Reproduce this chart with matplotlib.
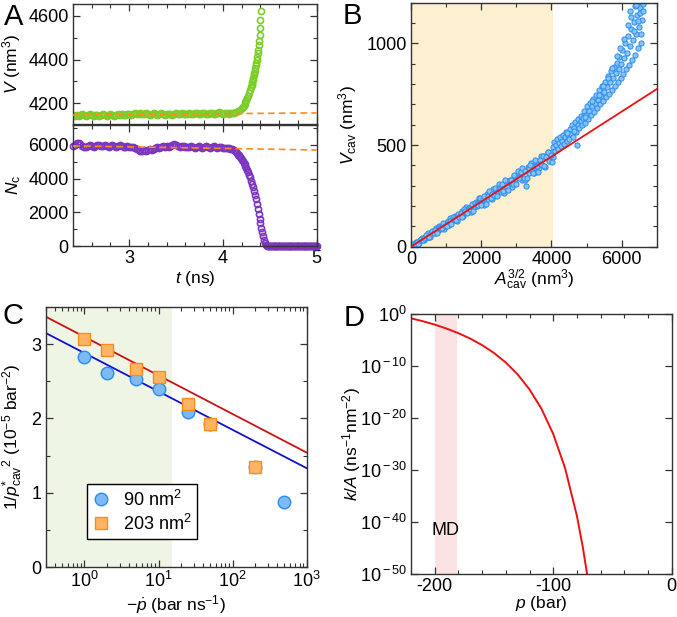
import numpy as np
import matplotlib
matplotlib.use('Agg')
import matplotlib.pyplot as plt
from matplotlib.lines import Line2D
from matplotlib.ticker import MultipleLocator, LogLocator, FixedLocator, NullFormatter, NullLocator, FixedFormatter

plt.rcParams['font.family'] = ['Liberation Sans', 'DejaVu Sans']
plt.rcParams['mathtext.fontset'] = 'custom'
plt.rcParams['mathtext.rm'] = 'Liberation Sans'
plt.rcParams['mathtext.it'] = 'Liberation Sans:italic'
plt.rcParams['mathtext.bf'] = 'Liberation Sans:bold'
plt.rcParams['axes.unicode_minus'] = False

# ---------------- Panel A data ----------------
tA_start = 2.40
tA_step = 0.02
V_flat = [4148, 4145, 4147, 4144, 4148, 4150, 4146, 4143, 4148, 4150,
          4146, 4143, 4147, 4149, 4145, 4148, 4151, 4147, 4144, 4147,
          4150, 4146, 4143, 4148, 4151, 4149, 4152, 4148, 4146, 4150,
          4152, 4148, 4152, 4155, 4151, 4154, 4156, 4152, 4154, 4156,
          4152, 4149, 4152, 4155, 4151, 4148, 4151, 4155, 4151, 4148,
          4151, 4154, 4150, 4147, 4151, 4155, 4151, 4154, 4157, 4153,
          4150, 4154, 4157, 4153, 4151, 4155, 4158, 4154, 4152, 4156,
          4158, 4154, 4152, 4156, 4158, 4154, 4152, 4156, 4159, 4155,
          4152, 4156, 4158, 4154, 4155, 4157]
t_V_rise = [4.12, 4.14, 4.16, 4.18, 4.20, 4.21, 4.22, 4.23, 4.24, 4.25, 4.26, 4.27, 4.28, 4.29,
            4.30, 4.305, 4.31, 4.315, 4.32, 4.325, 4.33, 4.335, 4.34, 4.345, 4.35, 4.355, 4.36, 4.365, 4.37,
            4.375, 4.38, 4.385, 4.39, 4.395, 4.40, 4.405, 4.41]
V_rise = [4158, 4162, 4165, 4170, 4178, 4183, 4190, 4197, 4206, 4214, 4224, 4235, 4246, 4259,
          4274, 4282, 4290, 4299, 4308, 4318, 4328, 4339, 4350, 4362, 4374, 4386, 4398, 4413, 4428,
          4445, 4464, 4486, 4512, 4542, 4578, 4620, 4670]
V_fit_t = [2.4, 5.0]
V_fit = [4147, 4157]

N_flat = [5950, 5990, 6080, 6120, 6040, 5930, 5880, 5840, 5900, 5960,
          5910, 5870, 5930, 5990, 6010, 5950, 5900, 5960, 5920, 5880,
          5940, 5990, 5930, 5870, 5910, 5960, 5900, 5850, 5890, 5940,
          5890, 5840, 5880, 5830, 5760, 5700, 5650, 5620, 5660, 5640,
          5700, 5760, 5710, 5760, 5800, 5850, 5820, 5880, 5910, 5870,
          5920, 5880, 5940, 5990, 6030, 5960, 5900, 5860, 5910, 5950,
          5890, 5840, 5880, 5920, 5870, 5830, 5880, 5920, 5860, 5820,
          5870, 5910, 5860, 5820, 5860, 5900, 5850, 5800, 5840, 5880,
          5830, 5790, 5820, 5780, 5750, 5720]
t_N_fall = [4.12, 4.13, 4.14, 4.15, 4.16, 4.17, 4.18, 4.19, 4.20, 4.21, 4.22, 4.23,
            4.24, 4.25, 4.26, 4.27, 4.28, 4.29, 4.30, 4.31, 4.32, 4.33, 4.34, 4.35,
            4.36, 4.37, 4.38, 4.39, 4.40, 4.41, 4.42, 4.43, 4.44, 4.45, 4.46, 4.47]
N_fall = [5680, 5640, 5560, 5520, 5420, 5370, 5260, 5210, 5120, 5060, 4930, 4880,
          4720, 4640, 4480, 4380, 4200, 4060, 3880, 3700, 3490, 3250, 3030, 2760,
          2500, 2200, 1920, 1600, 1340, 1060, 820, 580, 380, 200, 60, 0]
t_zero_start = 4.48
t_zero_step = 0.01
n_zero = 53
N_fit_t = [2.4, 5.0]
N_fit = [5930, 5690]

# ---------------- Panel B data ----------------
A_cav = [0, 45, 90, 135, 180, 225, 270, 315, 360, 405, 450, 495, 540, 585, 630, 675, 720, 765, 810, 855,
         900, 945, 990, 1035, 1080, 1125, 1170, 1215, 1260, 1305, 1350, 1395, 1440, 1485, 1530, 1575, 1620, 1665, 1710, 1755,
         1800, 1845, 1890, 1935, 1980, 2025, 2070, 2115, 2160, 2205, 2250, 2295, 2340, 2385, 2430, 2475, 2520, 2565, 2610, 2655,
         2700, 2745, 2790, 2835, 2880, 2925, 2970, 3015, 3060, 3105, 3150, 3195, 3240, 3285, 3330, 3375, 3420, 3465, 3510, 3555,
         3600, 3645, 3690, 3735, 3780, 3825, 3870, 3915, 3960, 4005, 4050,
         22, 67, 112, 157, 202, 247, 292, 337, 382, 427, 472, 517, 562, 607, 652, 697, 742, 787, 832, 877,
         922, 967, 1012, 1057, 1102, 1147, 1192, 1237, 1282, 1327, 1372, 1417, 1462, 1507, 1552, 1597, 1642, 1687, 1732, 1777,
         1822, 1867, 1912, 1957, 2002, 2047, 2092, 2137, 2182, 2227, 2272, 2317, 2362, 2407, 2452, 2497, 2542, 2587, 2632, 2677,
         2722, 2767, 2812, 2857, 2902, 2947, 2992, 3037, 3082, 3127, 3172, 3217, 3262, 3307, 3352, 3397, 3442, 3487, 3532, 3577,
         3622, 3667, 3712, 3757, 3802, 3847, 3892, 3937, 3982, 4027,
         4040, 4070, 4095, 4130, 4160, 4185, 4215, 4250, 4275, 4300, 4335, 4360, 4390, 4420, 4445, 4470, 4500, 4525, 4555, 4580,
         4610, 4640, 4670, 4700, 4720, 4745, 4770, 4800, 4830, 4855, 4880, 4910, 4940, 4965, 4990, 5020, 5050, 5075, 5100, 5130,
         5160, 5185, 5215, 5240, 5270, 5300, 5330, 5355, 5385, 5410, 5440, 5470, 5500, 5525, 5555, 5580, 5610, 5640, 5665, 5695,
         5720, 5750, 5775, 5805, 5830, 5860, 5885, 5915, 5940, 5970, 5995, 6025, 6050, 6080, 6105, 6135, 6160, 6190, 6215, 6245,
         6270, 6300, 6325, 6355, 6380, 6410, 6435, 6465, 6490, 6515, 6545, 6570, 6600, 6395, 6455, 6530, 6280, 6180, 6060, 5960,
         5870, 5720, 5620, 6480, 6560, 6240, 6420, 6340, 6610, 5480, 5350, 5150, 4950, 4650, 4450]
V_cav = [2, 1, 14, 23, 17, 16, 31, 41, 34, 49, 49, 65, 50, 70, 70, 67, 90, 82, 104, 89,
         105, 89, 118, 117, 108, 139, 125, 139, 152, 127, 158, 153, 175, 152, 170, 195, 171, 192, 171, 207,
         195, 220, 198, 240, 217, 233, 206, 246, 259, 237, 253, 235, 283, 253, 285, 269, 307, 267, 296, 263,
         313, 324, 300, 318, 293, 349, 313, 345, 372, 338, 328, 373, 327, 300, 393, 360, 411, 381, 363, 411,
         400, 385, 447, 403, 445, 391, 439, 465, 423, 467, 441,
         2, 14, 12, 22, 14, 31, 40, 31, 43, 58, 49, 48, 68, 75, 66, 80, 68, 98, 94, 91,
         117, 104, 101, 126, 128, 111, 144, 138, 133, 163, 147, 166, 146, 187, 175, 164, 189, 183, 209, 176,
         215, 208, 203, 238, 205, 233, 248, 211, 251, 272, 239, 260, 254, 288, 249, 290, 283, 306, 274, 326,
         296, 278, 329, 328, 309, 355, 308, 341, 336, 369, 389, 339, 374, 338, 388, 404, 371, 364, 428, 398,
         367, 428, 408, 446, 398, 440, 466, 420, 451, 417,
         492, 515, 470, 498, 530, 482, 508, 540, 495, 522, 551, 505, 538, 565, 520, 548, 532, 578, 556, 600,
         540, 585, 612, 565, 498, 600, 628, 585, 618, 645, 600, 632, 665, 610, 650, 690, 630, 668, 705, 650,
         690, 725, 662, 705, 748, 680, 722, 770, 700, 742, 790, 715, 760, 812, 735, 785, 840, 752, 808, 862,
         770, 830, 885, 790, 855, 905, 808, 875, 935, 830, 900, 965, 850, 928, 1000, 872, 955, 1035, 895, 985,
         1070, 920, 1015, 1105, 945, 1045, 1140, 975, 1080, 1175, 1000, 1115, 1195, 1185, 1205, 1150, 1130, 1090, 1020, 975,
         940, 880, 830, 1110, 1045, 1160, 1190, 1060, 1160, 790, 745, 715, 640, 570, 560]
B_fit_x = [0, 7000]
B_fit_y = [0, 775]
B_span = [0, 4050]

# ---------------- Panel C data ----------------
rate_90 = [1, 2, 5, 10, 25, 50, 200, 500]
inv_p2_90 = [2.83, 2.61, 2.53, 2.40, 2.09, 1.92, 1.35, 0.88]
err_90 = [0.05, 0.03, 0.03, 0.03, 0.03, 0.03, 0.03, 0.03]
rate_203 = [1, 2, 5, 10, 25, 50, 200]
inv_p2_203 = [3.07, 2.92, 2.66, 2.56, 2.19, 1.93, 1.34]
err_203 = [0.07, 0.03, 0.05, 0.03, 0.03, 0.03, 0.03]
fit_x = [0.3, 1000]
fit_90 = [3.15, 1.33]
fit_203 = [3.37, 1.54]
C_span = [0.3, 15]

# ---------------- Panel D data ----------------
p_bar = [-220, -210, -200, -190, -180, -170, -160, -150, -140, -130, -120, -110, -100, -90, -80, -75, -71]
log10_kA = [-0.83, -1.39, -2.04, -2.80, -3.69, -4.73, -5.98, -7.49, -9.33, -11.62, -14.50, -18.19,
            -23.06, -29.63, -38.82, -44.85, -50.62]
MD_span = [-200, -181]

# ---------------- Figure ----------------
W, H = 677, 617
fig = plt.figure(figsize=(W / 100, H / 100), dpi=100)

def ax_px(l, t, r, b):
    return fig.add_axes([l / W, 1 - b / H, (r - l) / W, (b - t) / H])

spine_c = '#333333'
fs = 13
lfs = 12.5

def style(ax):
    for s in ax.spines.values():
        s.set_color(spine_c)
        s.set_linewidth(1.0)
    ax.tick_params(which='both', direction='in', top=True, right=True, colors=spine_c,
                   labelcolor='black', labelsize=fs)
    ax.tick_params(which='major', length=5, width=0.9, pad=3)
    ax.tick_params(which='minor', length=2.8, width=0.8)

green = '#7ccd2a'
purple = '#7b35c0'
orange = '#ff8c1a'

# A upper
axA1 = ax_px(73, 4, 316.7, 124.5)
axA2 = ax_px(73, 124.5, 316.7, 246)
tV_flat = tA_start + tA_step * np.arange(len(V_flat))
tV = np.concatenate([tV_flat, t_V_rise])
V = np.concatenate([V_flat, V_rise])
axA1.plot(tV, V, 'o', mfc='none', mec=green, ms=4.4, mew=1.2, zorder=2)
axA1.plot(V_fit_t, V_fit, '--', color=orange, lw=1.2, dashes=(4, 2.5), zorder=3)
axA1.set_xlim(2.4, 5.0)
axA1.set_ylim(4104, 4653)
axA1.xaxis.set_major_locator(MultipleLocator(1))
axA1.xaxis.set_minor_locator(MultipleLocator(0.2))
axA1.yaxis.set_major_locator(FixedLocator([4200, 4400, 4600]))
axA1.yaxis.set_minor_locator(MultipleLocator(100))
style(axA1)
axA1.tick_params(labelbottom=False)
axA1.set_ylabel(r'$V$ (nm$^3$)', fontsize=lfs)
axA1.yaxis.set_label_coords(-0.205, 0.5)

tN_flat = tA_start + tA_step * np.arange(len(N_flat))
tN_zero = t_zero_start + t_zero_step * np.arange(n_zero)
tN = np.concatenate([tN_flat, t_N_fall, tN_zero])
N = np.concatenate([N_flat, N_fall, np.zeros(n_zero)])
axA2.plot(tN, N, 'o', mfc='none', mec=purple, ms=4.4, mew=1.2, zorder=2, clip_on=False)
axA2.plot(N_fit_t, N_fit, '--', color=orange, lw=1.2, dashes=(4, 2.5), zorder=3)
axA2.set_xlim(2.4, 5.0)
axA2.set_ylim(0, 7200)
axA2.xaxis.set_major_locator(MultipleLocator(1))
axA2.xaxis.set_minor_locator(MultipleLocator(0.2))
axA2.yaxis.set_major_locator(FixedLocator([0, 2000, 4000, 6000]))
axA2.yaxis.set_minor_locator(MultipleLocator(1000))
style(axA2)
axA2.set_ylabel(r'$N_{\rm c}$', fontsize=lfs)
axA2.yaxis.set_label_coords(-0.205, 0.5)
axA2.set_xlabel(r'$t$ (ns)', fontsize=lfs)
axA2.xaxis.set_label_coords(0.5, -0.19)

# B
axB = ax_px(411, 2.7, 656.7, 246.7)
axB.axvspan(B_span[0], B_span[1], color='#fdf0d0', lw=0, zorder=0)
axB.scatter(A_cav, V_cav, s=14, facecolor='#86c3f7', edgecolor='#2a8cf0', linewidths=0.7, zorder=2)
axB.plot(B_fit_x, B_fit_y, color='#ee1111', lw=1.3, zorder=3)
axB.set_xlim(0, 7000)
axB.set_ylim(0, 1200)
axB.xaxis.set_major_locator(FixedLocator([0, 2000, 4000, 6000]))
axB.xaxis.set_minor_locator(MultipleLocator(1000))
axB.yaxis.set_major_locator(FixedLocator([0, 500, 1000]))
axB.yaxis.set_minor_locator(MultipleLocator(100))
style(axB)
axB.set_ylabel(r'$V_{\rm cav}$ (nm$^3$)', fontsize=lfs)
axB.yaxis.set_label_coords(-0.212, 0.5)
axB.set_xlabel(r'$A_{\rm cav}^{3/2}$ (nm$^3$)', fontsize=lfs)
axB.xaxis.set_label_coords(0.5, -0.085)

# C
axC = ax_px(45.7, 307, 306.7, 567)
axC.axvspan(C_span[0], C_span[1], color='#eef5e5', lw=0, zorder=0)
axC.plot(fit_x, fit_203, color='#cc1111', lw=1.3, zorder=2)
axC.plot(fit_x, fit_90, color='#1111cc', lw=1.3, zorder=2)
c_face, c_edge = '#7dbaf5', '#2a8cf0'
s_face, s_edge = '#ffb463', '#ff8c1a'
axC.errorbar(rate_90, inv_p2_90, yerr=err_90, fmt='o', ms=9, mfc=c_face, mec=c_edge,
             mew=1.0, ecolor=c_edge, elinewidth=1, capsize=0, zorder=3)
axC.errorbar(rate_203, inv_p2_203, yerr=err_203, fmt='s', ms=8.5, mfc=s_face, mec=s_edge,
             mew=1.0, ecolor=s_edge, elinewidth=1, capsize=0, zorder=4)
axC.set_xscale('log')
axC.set_xlim(0.3, 1000)
axC.set_ylim(0, 3.5)
axC.xaxis.set_major_locator(LogLocator(base=10, numticks=10))
axC.xaxis.set_minor_locator(LogLocator(base=10, subs=np.arange(2, 10), numticks=20))
axC.xaxis.set_minor_formatter(NullFormatter())
axC.yaxis.set_major_locator(MultipleLocator(1))
axC.yaxis.set_minor_locator(MultipleLocator(0.5))
style(axC)
axC.set_ylabel(r'$1/{p^{*}_{\rm cav}}^{2}$ (10$^{-5}$ bar$^{-2}$)', fontsize=lfs)
axC.yaxis.set_label_coords(-0.08, 0.5)
axC.set_xlabel(r'$-\dot{p}$ (bar ns$^{-1}$)', fontsize=lfs)
axC.xaxis.set_label_coords(0.5, -0.1)
handles = [Line2D([], [], ls='none', marker='o', ms=9, mfc=c_face, mec=c_edge, mew=1.0),
           Line2D([], [], ls='none', marker='s', ms=8.5, mfc=s_face, mec=s_edge, mew=1.0)]
leg = axC.legend(handles, [r'90 nm$^2$', r'203 nm$^2$'], loc='lower left',
                 bbox_to_anchor=(0.158, 0.108), fontsize=fs, frameon=True,
                 fancybox=False, edgecolor='black', handlelength=1.0, handletextpad=0.7,
                 borderpad=0.3, labelspacing=0.2, borderaxespad=0, framealpha=1)
leg.get_frame().set_linewidth(1.0)

# D
axD = ax_px(411, 314, 671.7, 574)
axD.axvspan(MD_span[0], MD_span[1], color='#fbe3e3', lw=0, zorder=0)
axD.plot(p_bar, 10.0 ** np.array(log10_kA), color='#ee1111', lw=1.4, zorder=2)
axD.set_yscale('log')
axD.set_xlim(-220, 0)
axD.set_ylim(1e-50, 1)
axD.xaxis.set_major_locator(FixedLocator([-200, -100, 0]))
axD.xaxis.set_minor_locator(MultipleLocator(20))
yt = [1e0, 1e-10, 1e-20, 1e-30, 1e-40, 1e-50]
axD.yaxis.set_major_locator(FixedLocator(yt))
axD.yaxis.set_major_formatter(FixedFormatter([r'10$^{0}$', r'10$^{\rm -10}$', r'10$^{\rm -20}$',
                                              r'10$^{\rm -30}$', r'10$^{\rm -40}$', r'10$^{\rm -50}$']))
axD.yaxis.set_minor_locator(NullLocator())
style(axD)
axD.text(-191, 10 ** -41.7, 'MD', fontsize=fs, ha='center', va='center')
axD.set_ylabel(r'$k/A$ (ns$^{-1}$nm$^{-2}$)', fontsize=lfs)
axD.yaxis.set_label_coords(-0.184, 0.5)
axD.set_xlabel(r'$p$ (bar)', fontsize=lfs)
axD.xaxis.set_label_coords(0.5, -0.078)

# panel letters
for lab, x, y in [('A', 4, 3), ('B', 343, 2), ('C', 3, 302), ('D', 344, 304)]:
    fig.text(x / W, 1 - y / H, lab, fontsize=21, ha='left', va='top')

fig.savefig('out.png', dpi=100)
